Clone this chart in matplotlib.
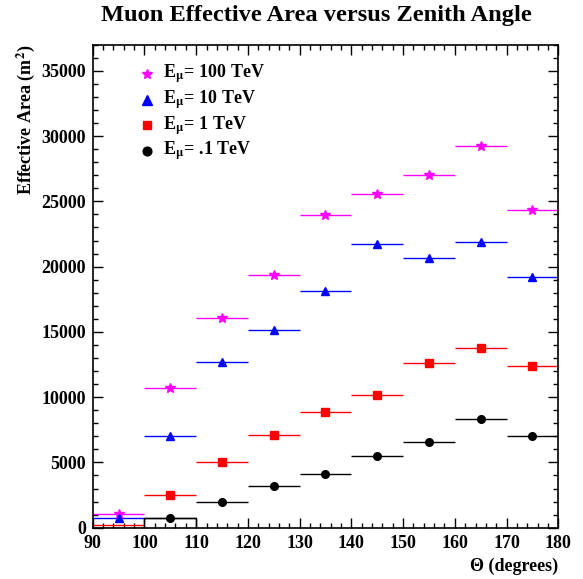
import numpy as np
import matplotlib as mpl
mpl.use('Agg')
import matplotlib.pyplot as plt
from matplotlib.ticker import MultipleLocator

plt.rcParams['font.family'] = ['Liberation Serif', 'DejaVu Serif']
plt.rcParams['font.weight'] = 'bold'
plt.rcParams['mathtext.fontset'] = 'stix'

# zenith angle bins (degrees), 10 degree wide
theta_centers = [95, 105, 115, 125, 135, 145, 155, 165, 175]
bin_half_width = 5

# effective area (m^2) for each muon energy
area_100tev = [1030, 10720, 16030, 19390, 23930, 25590, 26990, 29210, 24310]
area_10tev = [720, 7040, 12710, 15130, 18110, 21730, 20660, 21880, 19230]
area_1tev = [180, 2480, 5000, 7130, 8850, 10200, 12630, 13800, 12370]
area_01tev = [0, 720, 1970, 3230, 4140, 5510, 6560, 8320, 6990]

series = [
    (area_100tev, '100', 'magenta', '*', 7, 0),
    (area_10tev, '10', 'blue', '^', 6, 0),
    (area_1tev, '1', 'red', 's', 5.2, 1),
    (area_01tev, '.1', 'black', 'o', 5.5, 1),
]

fig = plt.figure(figsize=(5.83, 5.79), dpi=100)
ax = fig.add_axes([0.159, 0.0886, 0.7986, 0.8342])

for vals, label, color, marker, ms, first in series:
    x = np.array(theta_centers)
    y = np.array(vals)
    ax.hlines(y, x - bin_half_width, x + bin_half_width, color=color, lw=1.0, zorder=2)
    ax.plot(x[first:], y[first:], ls='none', marker=marker, ms=ms, color=color,
            mec=color, zorder=3)

# outline of the first filled bin of the .1 TeV histogram
b = 1
x0 = theta_centers[b] - bin_half_width
x1 = theta_centers[b] + bin_half_width
ax.plot([x0, x0, x1, x1], [0, area_01tev[b], area_01tev[b], 0], color='black', lw=1.0, zorder=2)

ax.set_xlim(90, 180)
ax.set_ylim(0, 37000)
ax.xaxis.set_major_locator(MultipleLocator(10))
ax.xaxis.set_minor_locator(MultipleLocator(2))
ax.yaxis.set_major_locator(MultipleLocator(5000))
ax.yaxis.set_minor_locator(MultipleLocator(1000))
ax.tick_params(which='both', direction='in', top=True, right=True, labelsize=13, width=1)
ax.tick_params(which='major', length=7.5, pad=5)
ax.tick_params(which='minor', length=3.8)
for lab in ax.get_xticklabels() + ax.get_yticklabels():
    lab.set_fontweight('bold')
for s in ax.spines.values():
    s.set_linewidth(1.2)

fig.text(0.542, 0.9642, 'Muon Effective Area versus Zenith Angle', fontsize=17.6,
         fontweight='bold', ha='center', va='baseline')
ax.set_ylabel(r'Effective Area (m$^{\mathbf{2}}$)', fontsize=13, fontweight='bold', loc='top')
ax.yaxis.set_label_coords(-0.119, 1.0)
ax.set_xlabel('\u0398 (degrees)', fontsize=13, fontweight='bold', loc='right')
ax.xaxis.set_label_coords(1.0, -0.063)

# legend drawn by hand, one row per energy
row_y = 0.939
for vals, label, color, marker, ms, first in series:
    ax.plot([0.1166], [row_y], transform=ax.transAxes, ls='none', marker=marker,
            ms=ms + 0.8, color=color, clip_on=False)
    ax.text(0.152, row_y, r'E$_{\mathrm{\mu}}$= ' + label + ' TeV', transform=ax.transAxes,
            fontsize=13, fontweight='bold', va='center', ha='left')
    row_y -= 0.053

fig.savefig('out.png', dpi=100)
